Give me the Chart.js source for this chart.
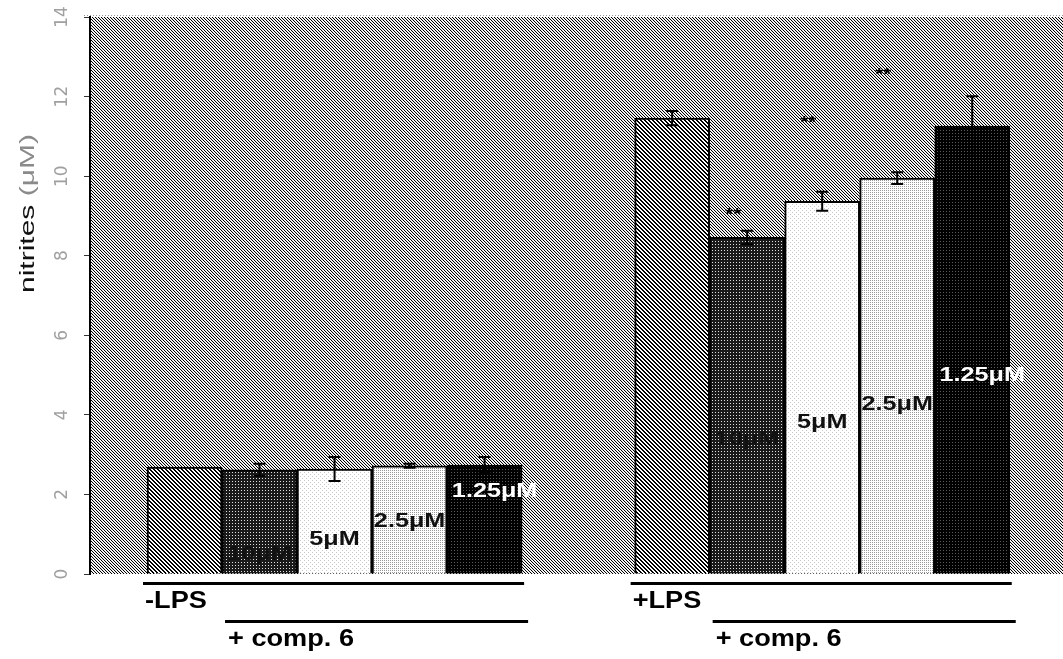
<!DOCTYPE html>
<html>
<head>
<meta charset="utf-8">
<script src="https://cdn.jsdelivr.net/npm/chart.js@4/dist/chart.umd.min.js"></script>
<style>
  html, body { margin: 0; padding: 0; background: #fff; }
  canvas { display: block; }
</style>
</head>
<body>
<canvas id="nitritesChart" width="1063" height="659"></canvas>
<script>
// --- data ---
const groups = ['-LPS', '+LPS'];
const doses = ['', '10\u03bcM', '5\u03bcM', '2.5\u03bcM', '1.25\u03bcM'];
const minusLps = [2.69, 2.62, 2.64, 2.72, 2.74];
const minusLpsErr = [0, 0.15, 0.30, 0.05, 0.20];
const plusLps = [11.46, 8.46, 9.37, 9.95, 11.26];
const plusLpsErr = [0.18, 0.17, 0.24, 0.15, 0.75];
// height (in µM) where each dose label sits inside its bar
const minusLabelAt = [null, 0.35, 0.73, 1.18, 1.94];
const plusLabelAt = [null, 3.25, 3.68, 4.13, 4.84];
// "**" marks (µM height), only on +LPS
const plusStars = [null, 9.14, 11.46, 12.65, null];
const yMin = 0, yMax = 14, yStep = 2;

const GROUP_GAP = 6.5;   // bar slots between the two groups

// --- halftone patterns ---
function tile(size, fn) {
  const c = document.createElement('canvas');
  c.width = c.height = size;
  const g = c.getContext('2d');
  for (let y = 0; y < size; y++) {
    for (let x = 0; x < size; x++) {
      g.fillStyle = fn(x, y);
      g.fillRect(x, y, 1, 1);
    }
  }
  return g.createPattern(c, 'repeat');
}
const mod = (a, n) => ((a % n) + n) % n;

const bgPattern = tile(3, (x, y) => { const d = mod(x - y, 3); return d === 0 ? '#000' : d === 1 ? '#e4e4e4' : '#fff'; });
const hatchPattern = tile(4, (x, y) => mod(x - y, 4) < 2 ? '#000' : '#fff');
const darkDots = tile(3, (x, y) => (x === 1 && y === 1) ? '#e0e0e0' : '#1a1a1a');
const whiteDots = tile(4, (x, y) => ((x === 0 && y === 0) || (x === 2 && y === 2)) ? '#c8c8c8' : '#fff');
const lightDots = tile(2, (x, y) => (x === 0 && y === 0) ? '#9a9a9a' : '#fff');
const blackDots = tile(3, (x, y) => (x === 1 && y === 1) ? '#5a5a5a' : '#000');
const barFills = [hatchPattern, darkDots, whiteDots, lightDots, blackDots];
const labelColors = ['#000', '#111', '#111', '#111', '#fff'];

const values = [...minusLps, ...plusLps];
const errors = [...minusLpsErr, ...plusLpsErr];
const labelAt = [...minusLabelAt, ...plusLabelAt];
const stars = [...doses.map(() => null), ...plusStars];
const points = values.map((v, i) => ({ x: Math.floor(i / 5) * GROUP_GAP + (i % 5), y: v }));

function stretchText(ctx, text, x, y, sx, align) {
  ctx.save();
  ctx.translate(x, y);
  ctx.scale(sx, 1);
  ctx.textAlign = align;
  ctx.fillText(text, 0, 0);
  ctx.restore();
}

const plotBackground = {
  id: 'plotBackground',
  beforeDraw(chart) {
    const { ctx, chartArea: a } = chart;
    ctx.save();
    ctx.fillStyle = bgPattern;
    ctx.fillRect(a.left, a.top, a.right - a.left, a.bottom - a.top);
    ctx.strokeStyle = '#999';
    ctx.lineWidth = 1;
    ctx.setLineDash([1, 2]);
    ctx.beginPath();
    ctx.moveTo(a.left - 6, a.top - 1.5);
    ctx.lineTo(a.right, a.top - 1.5);
    ctx.stroke();
    ctx.restore();
  }
};

const annotations = {
  id: 'annotations',
  afterDatasetsDraw(chart) {
    const { ctx } = chart;
    const ys = chart.scales.y;
    const bars = chart.getDatasetMeta(0).data;
    ctx.save();
    // error bars
    ctx.strokeStyle = '#000';
    ctx.lineWidth = 2;
    bars.forEach((bar, i) => {
      const e = errors[i];
      if (!e) return;
      const yt = ys.getPixelForValue(values[i] + e);
      const yb = ys.getPixelForValue(values[i] - e);
      ctx.beginPath();
      ctx.moveTo(bar.x, yt); ctx.lineTo(bar.x, yb);
      ctx.moveTo(bar.x - 6, yt); ctx.lineTo(bar.x + 6, yt);
      ctx.moveTo(bar.x - 6, yb); ctx.lineTo(bar.x + 6, yb);
      ctx.stroke();
    });
    // dose labels inside bars
    ctx.font = 'bold 21px "Liberation Sans", Arial, sans-serif';
    ctx.textBaseline = 'alphabetic';
    bars.forEach((bar, i) => {
      const k = i % 5;
      if (!doses[k] || labelAt[i] == null) return;
      ctx.fillStyle = labelColors[k];
      const dx = k === 4 ? 10 : 0;
      stretchText(ctx, doses[k], bar.x + dx, ys.getPixelForValue(labelAt[i]), 1.2, 'center');
    });
    // significance marks
    ctx.font = 'bold 17px "Liberation Sans", Arial, sans-serif';
    ctx.fillStyle = '#000';
    ctx.textBaseline = 'middle';
    bars.forEach((bar, i) => {
      if (stars[i] == null) return;
      stretchText(ctx, '**', bar.x - 14, ys.getPixelForValue(stars[i]) + 5, 1.2, 'center');
    });
    ctx.restore();
  },
  afterDraw(chart) {
    const { ctx, chartArea: a } = chart;
    const xs = chart.scales.x, ys = chart.scales.y;
    ctx.save();
    // y tick labels (rotated like the scan)
    ctx.fillStyle = '#a0a0a0';
    ctx.font = '17px "DejaVu Sans", sans-serif';
    ctx.textAlign = 'center';
    ctx.textBaseline = 'middle';
    ys.ticks.forEach(t => {
      ctx.save();
      ctx.translate(63, ys.getPixelForValue(t.value));
      ctx.rotate(-Math.PI / 2);
      ctx.fillText(String(t.value), 0, 0);
      ctx.restore();
    });
    // y title
    ctx.save();
    ctx.translate(28, 293);
    ctx.rotate(-Math.PI / 2);
    ctx.scale(1.5, 1);
    ctx.font = '20px "Liberation Sans", Arial, sans-serif';
    ctx.textAlign = 'left';
    ctx.textBaseline = 'middle';
    ctx.fillStyle = '#111';
    ctx.fillText('nitrites', 0, 0);
    const w = ctx.measureText('nitrites').width;
    ctx.fillStyle = '#8a8a8a';
    ctx.fillText(' (\u03bcM)', w, 0);
    ctx.restore();
    // treatment brackets under the bars
    ctx.fillStyle = '#000';
    ctx.strokeStyle = '#000';
    ctx.lineWidth = 3;
    ctx.font = 'bold 23px "Liberation Sans", Arial, sans-serif';
    ctx.textBaseline = 'alphabetic';
    groups.forEach((g, gi) => {
      const off = gi * GROUP_GAP;
      const x0 = xs.getPixelForValue(off - 0.5);
      const x1 = xs.getPixelForValue(off + 0.5);
      const xe = xs.getPixelForValue(off + 4.5);
      ctx.beginPath();
      ctx.moveTo(x0 - 4, a.bottom + 9.5); ctx.lineTo(xe + 2, a.bottom + 9.5);
      ctx.moveTo(x1 + 3, a.bottom + 47.5); ctx.lineTo(xe + 6, a.bottom + 47.5);
      ctx.stroke();
      stretchText(ctx, g, x0 - 2, a.bottom + 34, 1.18, 'left');
      stretchText(ctx, '+ comp. 6', x1 + 6, a.bottom + 72, 1.18, 'left');
    });
    ctx.restore();
  }
};

new Chart(document.getElementById('nitritesChart').getContext('2d'), {
  type: 'bar',
  data: {
    datasets: [{
      data: points,
      backgroundColor: values.map((v, i) => barFills[i % 5]),
      borderColor: '#000',
      borderWidth: 2,
      barPercentage: 1,
      categoryPercentage: 1
    }]
  },
  options: {
    responsive: false,
    animation: false,
    devicePixelRatio: 1,
    layout: { padding: { top: 17, bottom: 85, left: 0, right: 0 } },
    plugins: { legend: { display: false }, tooltip: { enabled: false } },
    scales: {
      x: {
        type: 'linear',
        display: false,
        offset: false,
        min: -1.26,
        max: 11.71,
        ticks: { stepSize: 1, includeBounds: false }
      },
      y: {
        min: yMin,
        max: yMax,
        ticks: { stepSize: yStep, display: false },
        grid: { drawOnChartArea: false, drawTicks: true, tickLength: 6, color: '#333' },
        border: { display: true, color: '#000', width: 2 },
        afterFit(scale) { scale.width = 90; }
      }
    }
  },
  plugins: [plotBackground, annotations]
});
</script>
</body>
</html>
